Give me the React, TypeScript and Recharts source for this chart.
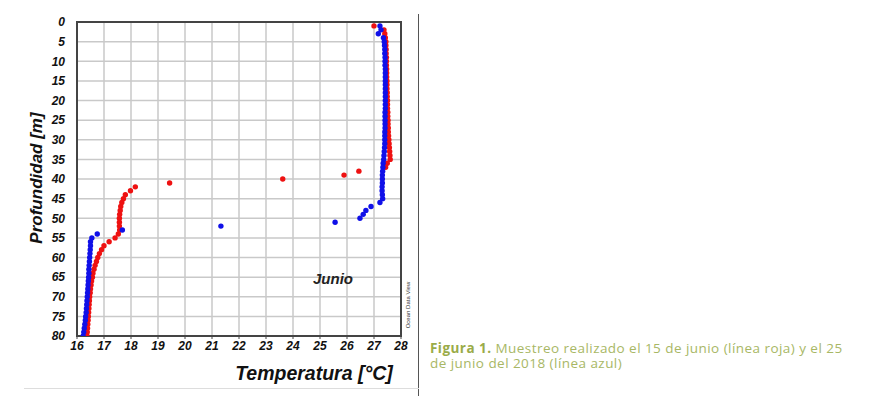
import React from "react";
import {
  ScatterChart,
  Scatter,
  XAxis,
  YAxis,
  CartesianGrid,
  ReferenceArea,
} from "recharts";

// Profundidad (m) de cada muestra, de 1 a 80
const depths = [
  1, 2, 3, 4, 5, 6, 7, 8, 9, 10, 11, 12, 13, 14, 15, 16, 17, 18, 19, 20,
  21, 22, 23, 24, 25, 26, 27, 28, 29, 30, 31, 32, 33, 34, 35, 36, 37, 38, 39, 40,
  41, 42, 43, 44, 45, 46, 47, 48, 49, 50, 51, 52, 53, 54, 55, 56, 57, 58, 59, 60,
  61, 62, 63, 64, 65, 66, 67, 68, 69, 70, 71, 72, 73, 74, 75, 76, 77, 78, 79, 80,
];

// 15 de junio (línea roja)
const tempJun15 = [
  27.0, 27.37, 27.4, 27.42, 27.44, 27.44, 27.45, 27.45, 27.46, 27.46,
  27.46, 27.47, 27.47, 27.47, 27.48, 27.48, 27.48, 27.49, 27.49, 27.5,
  27.5, 27.5, 27.51, 27.51, 27.52, 27.52, 27.53, 27.53, 27.54, 27.55,
  27.56, 27.57, 27.58, 27.59, 27.6, 27.49, 27.43, 26.44, 25.89, 23.62,
  19.43, 18.16, 17.98, 17.79, 17.72, 17.66, 17.62, 17.6, 17.58, 17.57,
  17.57, 17.57, 17.58, 17.53, 17.41, 17.19, 17.0, 16.91, 16.83, 16.77,
  16.72, 16.67, 16.63, 16.59, 16.57, 16.54, 16.52, 16.5, 16.49, 16.47,
  16.46, 16.45, 16.44, 16.43, 16.42, 16.41, 16.4, 16.39, 16.38, 16.37,
];

// 25 de junio (línea azul)
const tempJun25 = [
  27.22, 27.26, 27.16, 27.35, 27.38, 27.39, 27.4, 27.4, 27.41, 27.41,
  27.41, 27.42, 27.42, 27.42, 27.42, 27.42, 27.42, 27.42, 27.42, 27.42,
  27.42, 27.42, 27.41, 27.41, 27.41, 27.41, 27.41, 27.4, 27.4, 27.4,
  27.4, 27.39, 27.38, 27.37, 27.36, 27.34, 27.33, 27.32, 27.31, 27.31,
  27.31, 27.3, 27.3, 27.31, 27.32, 27.22, 26.89, 26.7, 26.6, 26.48,
  25.56, 21.33, 17.68, 16.75, 16.55, 16.5, 16.5, 16.49, 16.48, 16.47,
  16.46, 16.45, 16.44, 16.44, 16.43, 16.42, 16.41, 16.4, 16.39, 16.38,
  16.37, 16.36, 16.35, 16.34, 16.32, 16.31, 16.29, 16.27, 16.25, 16.23,
];

const xTicks = [16, 17, 18, 19, 20, 21, 22, 23, 24, 25, 26, 27, 28];
const yTicks = [0, 5, 10, 15, 20, 25, 30, 35, 40, 45, 50, 55, 60, 65, 70, 75, 80];

const red = depths.map((d, i) => ({ temp: tempJun15[i], depth: d }));
const blue = depths.map((d, i) => ({ temp: tempJun25[i], depth: d }));

const FONT = "'Liberation Sans', Arial, sans-serif";
const tickStyle = {
  fill: "#111",
  fontSize: 12,
  fontWeight: 700,
  fontStyle: "italic",
  fontFamily: FONT,
};

const Dot = (props: any) => {
  const { cx, cy, fill } = props;
  if (cx == null || cy == null) return null;
  return <circle cx={cx} cy={cy} r={2.7} fill={fill} />;
};

export default function App() {
  return (
    <div
      style={{
        position: "absolute",
        left: 0,
        top: 0,
        width: 896,
        height: 396,
        background: "#fff",
        overflow: "hidden",
      }}
    >
      <ScatterChart
        width={420}
        height={396}
        margin={{ top: 22, right: 19, left: 47, bottom: 30 }}
      >
        <CartesianGrid stroke="#c9c9c9" strokeWidth={1.5} />
        <XAxis
          type="number"
          dataKey="temp"
          domain={[16, 28]}
          ticks={xTicks}
          interval={0}
          allowDataOverflow
          axisLine={false}
          tickLine={{ stroke: "#444" }}
          tickSize={3}
          tick={tickStyle}
          height={30}
        />
        <YAxis
          type="number"
          dataKey="depth"
          domain={[0, 80]}
          ticks={yTicks}
          interval={0}
          reversed
          allowDataOverflow
          axisLine={false}
          tickLine={false}
          tickMargin={6}
          tick={tickStyle}
          width={30}
        />
        <Scatter
          data={red}
          fill="#ee1111"
          shape={<Dot />}
          isAnimationActive={false}
        />
        <Scatter
          data={blue}
          fill="#1010e8"
          shape={<Dot />}
          isAnimationActive={false}
        />
        <ReferenceArea
          x1={16}
          x2={28}
          y1={0}
          y2={80}
          fill="none"
          fillOpacity={0}
          stroke="#444"
          strokeWidth={2}
        />
      </ScatterChart>

      {/* títulos de los ejes y anotaciones */}
      <div
        style={{
          position: "absolute",
          left: 37,
          top: 178,
          transform: "translate(-50%, -50%) rotate(-90deg)",
          whiteSpace: "nowrap",
          fontFamily: FONT,
          fontWeight: 700,
          fontStyle: "italic",
          fontSize: 17,
          color: "#111",
        }}
      >
        Profundidad [m]
      </div>
      <div
        style={{
          position: "absolute",
          left: 314,
          top: 373,
          transform: "translate(-50%, -50%)",
          whiteSpace: "nowrap",
          fontFamily: FONT,
          fontWeight: 700,
          fontStyle: "italic",
          fontSize: 19.5,
          color: "#111",
        }}
      >
        Temperatura [°C]
      </div>
      <div
        style={{
          position: "absolute",
          left: 333,
          top: 278,
          transform: "translate(-50%, -50%)",
          whiteSpace: "nowrap",
          fontFamily: FONT,
          fontWeight: 700,
          fontStyle: "italic",
          fontSize: 15,
          color: "#222",
        }}
      >
        Junio
      </div>
      <div
        style={{
          position: "absolute",
          left: 408,
          top: 305,
          transform: "translate(-50%, -50%) rotate(-90deg)",
          whiteSpace: "nowrap",
          fontFamily: FONT,
          fontSize: 6,
          color: "#333",
        }}
      >
        Ocean Data View
      </div>

      {/* separadores */}
      <div
        style={{
          position: "absolute",
          left: 418,
          top: 14,
          width: 1,
          height: 382,
          background: "#555",
        }}
      />
      <div
        style={{
          position: "absolute",
          left: 24,
          top: 388,
          width: 395,
          height: 1,
          background: "#ddd",
        }}
      />

      {/* pie de figura */}
      <div
        style={{
          position: "absolute",
          left: 430,
          top: 341,
          whiteSpace: "nowrap",
          fontFamily: "'Open Sans', 'Noto Sans', sans-serif",
          fontSize: 13.5,
          lineHeight: "15px",
          letterSpacing: 0.45,
          color: "#a8b765",
        }}
      >
        <div>
          <span style={{ fontWeight: 700, color: "#9aab48", marginRight: 4 }}>
            Figura 1.
          </span>
          <span>Muestreo realizado el 15 de junio (línea roja) y el 25</span>
        </div>
        <div>de junio del 2018 (línea azul)</div>
      </div>
    </div>
  );
}
